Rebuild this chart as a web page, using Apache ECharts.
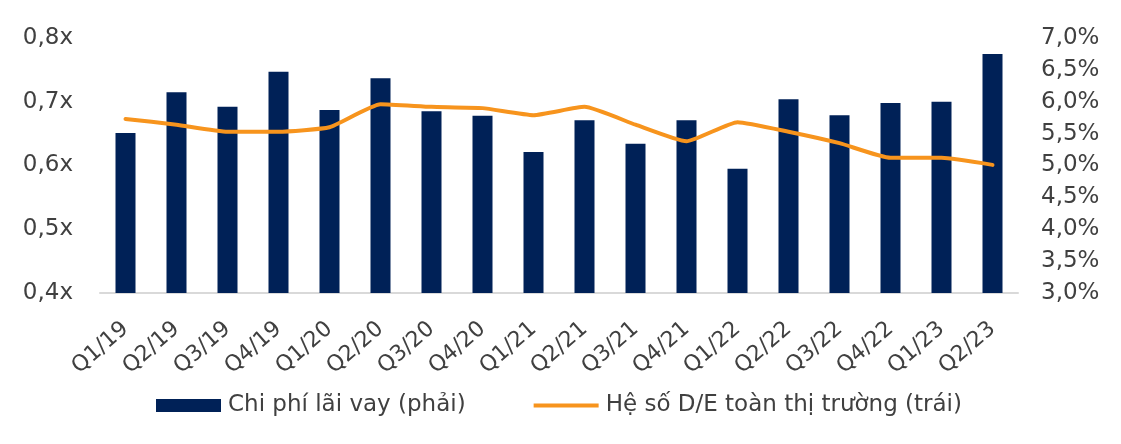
<!DOCTYPE html>
<html>
<head>
<meta charset="utf-8">
<script src="https://cdn.jsdelivr.net/npm/echarts@6/dist/echarts.min.js"></script>
<style>
    html, body { margin: 0; padding: 0; background: #fff; }
    #chart { width: 1121px; height: 444px; }
</style>
</head>
<body>
<div id="chart"></div>
<script>
const quarters = ["Q1/19", "Q2/19", "Q3/19", "Q4/19", "Q1/20", "Q2/20", "Q3/20", "Q4/20", "Q1/21",
    "Q2/21", "Q3/21", "Q4/21", "Q1/22", "Q2/22", "Q3/22", "Q4/22", "Q1/23", "Q2/23"];

// Chi phí lãi vay (%), right axis
const interestCost = [5.51, 6.15, 5.92, 6.47, 5.87, 6.37, 5.85, 5.78, 5.21,
    5.71, 5.34, 5.71, 4.95, 6.04, 5.79, 5.98, 6.0, 6.75];

// Hệ số D/E toàn thị trường (x), left axis
const deRatio = [0.673, 0.664, 0.653, 0.653, 0.660, 0.696, 0.692, 0.690, 0.679,
    0.692, 0.664, 0.638, 0.668, 0.653, 0.635, 0.612, 0.612, 0.601];

const labelColor = "#404040";
const fontFamily = "DejaVu Sans, Liberation Sans, sans-serif";
const orange = "#F7941D";
const navy = "#002157";

const chart = echarts.init(document.getElementById("chart"));

chart.setOption({
    animation: false,
    textStyle: { fontFamily: fontFamily },
    grid: { left: 100, right: 103, top: 38, bottom: 151 },
    legend: {
        top: 389,
        left: 151,
        itemWidth: 65,
        itemHeight: 13,
        itemGap: 68,
        textStyle: { fontSize: 23, color: labelColor, fontFamily: fontFamily, padding: [0, 0, 0, 2] },
        data: [
            { name: "Chi phí lãi vay (phải)", icon: "rect" },
            {
                name: "Hệ số D/E toàn thị trường (trái)",
                icon: "path://M0,0H65V4H0Z",
                itemStyle: { color: orange }
            }
        ]
    },
    xAxis: {
        type: "category",
        data: quarters,
        axisLine: { lineStyle: { color: "#d9d9d9", width: 2 } },
        axisTick: { show: false },
        axisLabel: {
            rotate: 41,
            fontSize: 22,
            color: labelColor,
            margin: 33,
            interval: 0
        }
    },
    yAxis: [
        {
            type: "value",
            min: 0.4,
            max: 0.8,
            interval: 0.1,
            splitLine: { show: false },
            axisLine: { show: false },
            axisTick: { show: false },
            axisLabel: {
                fontSize: 23,
                color: labelColor,
                margin: 27,
                formatter: v => v.toFixed(1).replace(".", ",") + "x"
            }
        },
        {
            type: "value",
            min: 3,
            max: 7,
            interval: 0.5,
            splitLine: { show: false },
            axisLine: { show: false },
            axisTick: { show: false },
            axisLabel: {
                fontSize: 23,
                color: labelColor,
                margin: 23,
                formatter: v => v.toFixed(1).replace(".", ",") + "%"
            }
        }
    ],
    series: [
        {
            name: "Chi phí lãi vay (phải)",
            type: "bar",
            yAxisIndex: 1,
            data: interestCost,
            barWidth: 20,
            itemStyle: { color: navy }
        },
        {
            name: "Hệ số D/E toàn thị trường (trái)",
            type: "line",
            yAxisIndex: 0,
            data: deRatio,
            symbol: "none",
            smooth: 0.15,
            lineStyle: { color: orange, width: 4, cap: "round", join: "round" },
            itemStyle: { color: orange }
        }
    ]
});
</script>
</body>
</html>
